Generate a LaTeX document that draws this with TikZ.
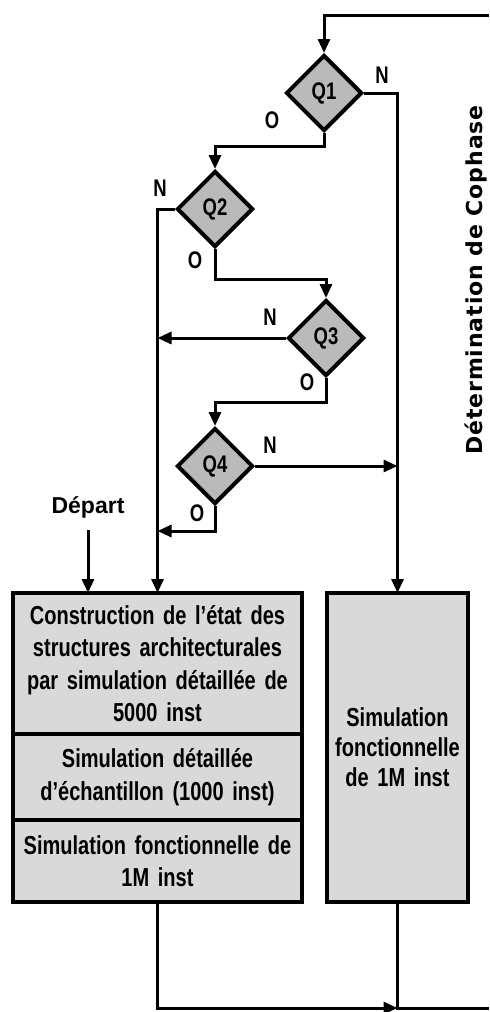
\documentclass[tikz,border=0pt]{standalone}
\usepackage{fontspec}
\setmainfont{Liberation Sans}
\newfontfamily\narrowfont{Liberation Sans}[FakeStretch=0.77]
\newfontfamily\sidefont{DejaVu Sans}[LetterSpace=4]
\usetikzlibrary{arrows.meta, shapes.geometric, positioning, calc}
\tikzset{
    blocknode/.style = {draw, rectangle, fill=black!15, line width=2pt, inner sep=0pt, outer sep=0pt,
      align=center, font=\narrowfont\bfseries\fontsize{13}{16.2}\selectfont},
    decisionnode/.style = {draw, diamond, fill=black!27, line width=2pt, inner sep=0pt,
      minimum size=38pt, font=\narrowfont\bfseries\fontsize{12}{14}\selectfont},
    textnode/.style = {draw=none, fill=none, inner sep=0pt, font=\narrowfont\bfseries\fontsize{12}{14}\selectfont},
    sidenode/.style = {draw=none, fill=none, inner sep=0pt, rotate=90, font=\sidefont\bfseries\fontsize{11}{13}\selectfont},
    connect/.style = {line width=1.5pt, -{Triangle[length=7pt,width=6pt]}},
    plain/.style = {line width=1.5pt}
}
\begin{document}
\begin{tikzpicture}[x=0.5pt, y=-0.5pt]
\useasboundingbox (0,0) rectangle (489,1012);
% questions
\node[decisionnode, name=q1] at (324,93) {Q1};
\node[decisionnode, name=q2] at (215,209) {Q2};
\node[decisionnode, name=q3] at (326,338) {Q3};
\node[decisionnode, name=q4] at (215,466) {Q4};
\node[textnode, name=q1n] at (382,75) {N};
\node[textnode, name=q1o] at (272,120) {O};
\node[textnode, name=q2n] at (160,188) {N};
\node[textnode, name=q2o] at (195,260) {O};
\node[textnode, name=q3n] at (270,317) {N};
\node[textnode, name=q3o] at (307,382) {O};
\node[textnode, name=q4n] at (270,445) {N};
\node[textnode, name=q4o] at (197,513) {O};
\node[textnode, name=depart, font=\bfseries\fontsize{11.5}{13}\selectfont] at (88,507) {Départ};
\node[sidenode, name=side] at (476,280) {Détermination de Cophase};
% blocks
\node[blocknode, name=cbox, anchor=north, minimum width=144.5pt, text width=140pt, minimum height=70.5pt] at (157.5,593)
  {Construction de l’état des\\structures architecturales\\par simulation détaillée de\\5000 inst};
\node[blocknode, name=ebox, below=0pt of cbox, minimum width=144.5pt, text width=140pt, minimum height=43pt]
  {Simulation détaillée\\d’échantillon (1000 inst)};
\node[blocknode, name=sbox, below=0pt of ebox, minimum width=144.5pt, text width=140pt, minimum height=41pt]
  {Simulation fonctionnelle de\\1M inst};
\node[blocknode, name=fbox, anchor=north, minimum width=70.5pt, text width=69pt, minimum height=154.5pt,
  font=\narrowfont\bfseries\fontsize{13}{15}\selectfont] at (397.5,593)
  {Simulation\\fonctionnelle\\de 1M inst};
% connectors
\coordinate (entry) at (489,15);
\coordinate (exit) at (489,1008);
\coordinate (join) at (fbox.south |- exit);
\coordinate (q4bend) at ($(q4.south)+(0,25)$);
\coordinate[below=6pt of depart] (dstart);
\draw[connect] (entry) -| (q1.north);
\draw[connect] (q1.east) -| (fbox.north);
\draw[connect] (q1.south) -- ++(0,13) -| (q2.north);
\draw[connect] (q2.west) -| (cbox.north);
\draw[connect] (q2.south) -- ++(0,30) -| (q3.north);
\draw[connect] (q3.west) -- (q3.west -| cbox.north);
\draw[connect] (q3.south) -- ++(0,24) -| (q4.north);
\draw[connect] (q4.east) -- (q4.east -| fbox.north);
\draw[connect] (q4.south) -- (q4bend) -- (q4bend -| cbox.north);
\draw[connect] (dstart) -- (dstart |- cbox.north);
\draw[connect] (sbox.south) |- (join);
\draw[plain] (fbox.south) -- (join) -- (exit);
\end{tikzpicture}
\end{document}
